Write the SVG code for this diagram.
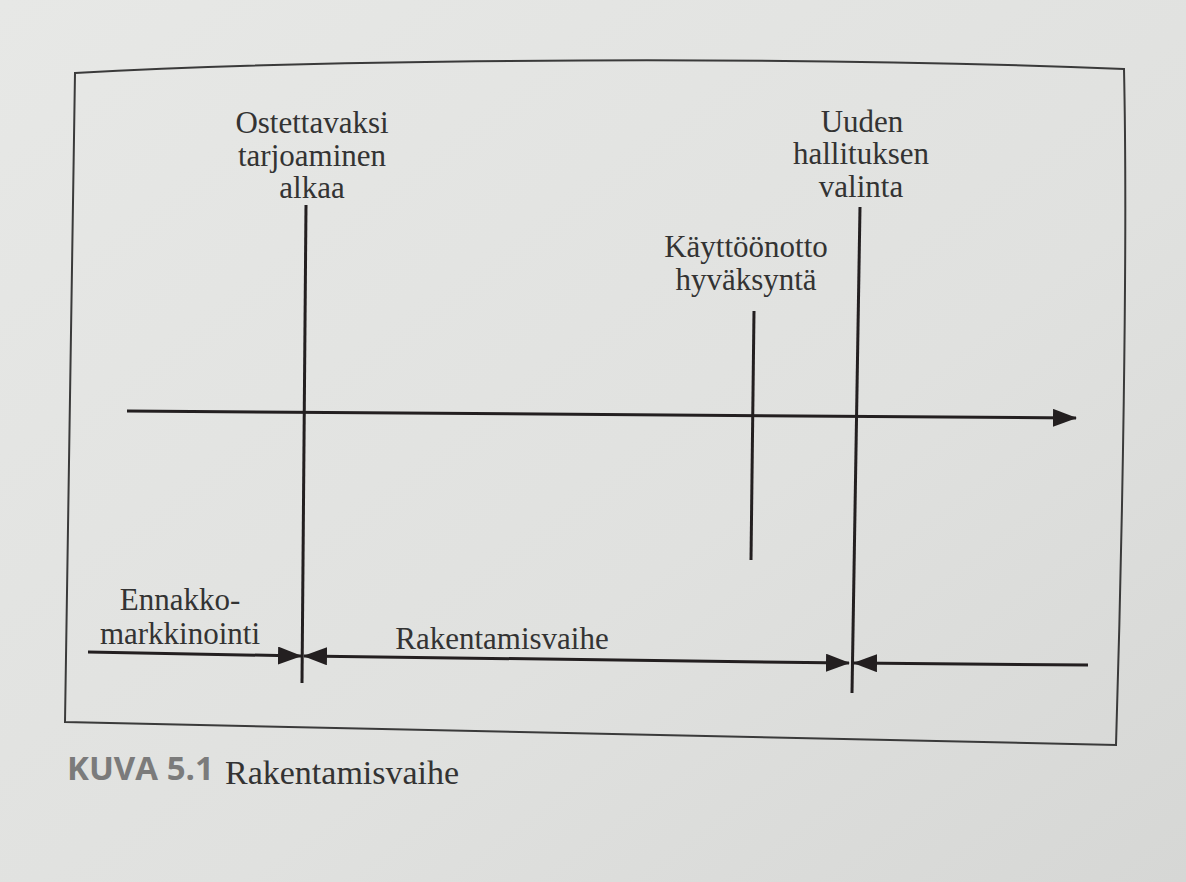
<svg xmlns="http://www.w3.org/2000/svg" width="1186" height="882" viewBox="0 0 1186 882">
  <defs>
    <linearGradient id="paper" x1="0" y1="0" x2="1" y2="1">
      <stop offset="0" stop-color="#e7e8e6"/>
      <stop offset="0.6" stop-color="#e0e1df"/>
      <stop offset="1" stop-color="#d6d7d5"/>
    </linearGradient>
    <marker id="head" viewBox="0 0 24 18" refX="23" refY="9" markerWidth="24" markerHeight="18" markerUnits="userSpaceOnUse" orient="auto-start-reverse">
      <path d="M0,0 L24,9 L0,18 Z" fill="#231f20"/>
    </marker>
  </defs>
  <style>
    .lbl { font-family: "Liberation Serif", "Times New Roman", serif; font-size: 31px; fill: #333; text-anchor: middle; }
    .tick { stroke: #231f20; stroke-width: 3; fill: none; }
    .conn { stroke: #231f20; stroke-width: 3; fill: none; }
    .frame { stroke: #3a3a3a; stroke-width: 2; fill: none; }
  </style>

  <rect x="0" y="0" width="1186" height="882" fill="url(#paper)"/>

  <path id="frame" class="frame" d="M75,73 C350,58 800,56 1124,69 C1128,250 1122,550 1116,745 L65,722 Z"/>

  <g id="node-ostettavaksi">
    <text class="lbl" x="312" y="133">Ostettavaksi</text>
    <text class="lbl" x="312" y="166">tarjoaminen</text>
    <text class="lbl" x="312" y="198">alkaa</text>
    <line class="tick" x1="306" y1="205" x2="302" y2="683"/>
  </g>

  <g id="node-kayttoonotto">
    <text class="lbl" x="746" y="257">Käyttöönotto</text>
    <text class="lbl" x="746" y="290">hyväksyntä</text>
    <line class="tick" x1="754" y1="311" x2="751" y2="560"/>
  </g>

  <g id="node-uuden">
    <text class="lbl" x="862" y="132">Uuden</text>
    <text class="lbl" x="861" y="164">hallituksen</text>
    <text class="lbl" x="861" y="197">valinta</text>
    <line class="tick" x1="860" y1="207" x2="852" y2="693"/>
  </g>

  <g id="node-ennakko">
    <text class="lbl" x="180" y="610">Ennakko-</text>
    <text class="lbl" x="180" y="644">markkinointi</text>
  </g>

  <g id="node-rakentamisvaihe">
    <text class="lbl" x="502" y="649">Rakentamisvaihe</text>
  </g>

  <g id="connectors">
    <line class="conn" x1="127" y1="411" x2="1076" y2="418" marker-end="url(#head)"/>
    <line class="conn" x1="88" y1="652" x2="301" y2="656" marker-end="url(#head)"/>
    <line class="conn" x1="304" y1="656" x2="849" y2="663" marker-start="url(#head)" marker-end="url(#head)"/>
    <line class="conn" x1="1088" y1="665" x2="854" y2="663" marker-end="url(#head)"/>
  </g>

  <g id="caption">
    <text x="67" y="780" font-family="'Open Sans', 'Liberation Sans', sans-serif" font-weight="700" font-size="33" fill="#7b7b7b">KUVA 5.1</text>
    <text x="225" y="784" font-family="'Liberation Serif', 'Times New Roman', serif" font-size="34" fill="#333">Rakentamisvaihe</text>
  </g>
</svg>
